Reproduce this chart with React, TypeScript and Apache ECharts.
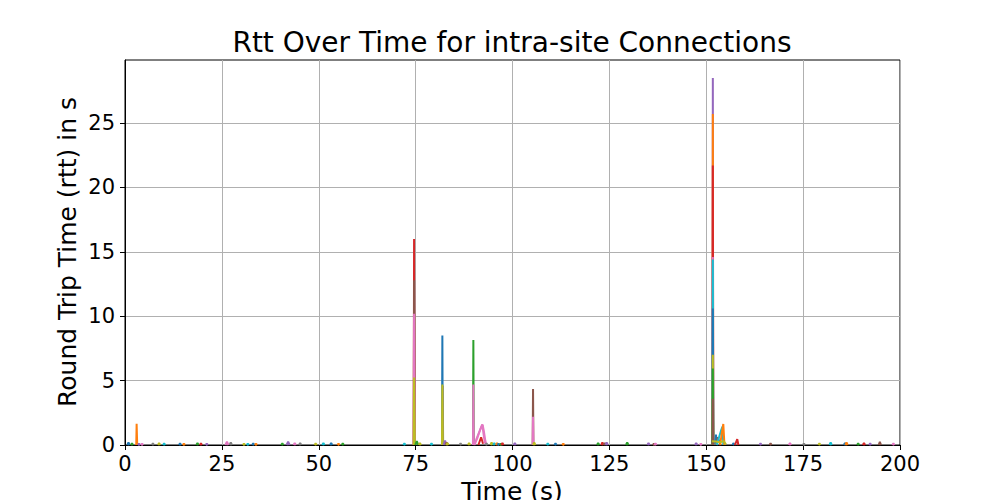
import React, { useEffect, useRef } from "react";
import * as echarts from "echarts";

type Pt = [number, number];
type Conn = [number, Pt[]]; // [connection colour index in the tab10 cycle, samples [time s, rtt s]]

const TAB10 = ["#1f77b4", "#ff7f0e", "#2ca02c", "#d62728", "#9467bd", "#8c564b", "#e377c2", "#7f7f7f", "#bcbd22", "#17becf"];

const X_TICKS = [0, 25, 50, 75, 100, 125, 150, 175, 200];
const Y_TICKS = [0, 5, 10, 15, 20, 25];

const earlyConns: Conn[] = [
  [0, [[0.6, 0], [0.9, 0.2], [1.2, 0]]],
  [2, [[1.5, 0], [1.8, 0.12], [2.1, 0]]],
  [1, [[2.9, 0], [3.0, 1.65], [3.15, 0]]],
  [4, [[3.3, 0], [3.6, 0.1], [3.9, 0]]],
  [6, [[4.1, 0], [4.4, 0.1], [4.7, 0]]],
  [7, [[6.9, 0], [7.2, 0.12], [7.5, 0]]],
  [8, [[8.5, 0], [8.8, 0.15], [9.1, 0]]],
  [9, [[9.8, 0], [10.1, 0.12], [10.4, 0]]],
  [0, [[13.9, 0], [14.2, 0.12], [14.5, 0]]],
  [1, [[14.9, 0], [15.2, 0.1], [15.5, 0]]],
  [2, [[18.4, 0], [18.7, 0.15], [19.0, 0]]],
  [3, [[19.3, 0], [19.6, 0.12], [19.9, 0]]],
  [4, [[20.8, 0], [21.1, 0.1], [21.4, 0]]],
  [6, [[25.9, 0], [26.3, 0.25], [26.7, 0]]],
  [7, [[27.0, 0], [27.3, 0.2], [27.6, 0]]],
  [8, [[30.4, 0], [30.7, 0.1], [31.0, 0]]],
  [9, [[31.4, 0], [31.7, 0.1], [32.0, 0]]],
  [0, [[32.8, 0], [33.1, 0.12], [33.4, 0]]],
  [1, [[33.5, 0], [33.8, 0.1], [34.1, 0]]],
  [2, [[40.3, 0], [40.6, 0.12], [40.9, 0]]],
  [4, [[41.7, 0], [42.1, 0.25], [42.5, 0]]],
  [6, [[43.5, 0], [43.8, 0.15], [44.1, 0]]],
  [7, [[44.9, 0], [45.2, 0.15], [45.5, 0]]],
  [8, [[48.9, 0], [49.2, 0.12], [49.5, 0]]],
  [9, [[50.9, 0], [51.2, 0.15], [51.5, 0]]],
  [0, [[52.9, 0], [53.2, 0.15], [53.5, 0]]],
  [1, [[54.8, 0], [55.1, 0.1], [55.4, 0]]],
  [2, [[55.9, 0], [56.2, 0.12], [56.5, 0]]],
];

const burst75Conns: Conn[] = [
  [9, [[71.8, 0], [72.1, 0.12], [72.4, 0]]],
  [3, [[74.5, 0], [74.6, 16.0], [74.75, 0]]],
  [5, [[74.5, 0], [74.6, 12.8], [74.75, 0]]],
  [6, [[74.5, 0], [74.6, 10.2], [74.75, 0]]],
  [8, [[74.5, 0], [74.6, 5.25], [74.8, 0]]],
  [2, [[74.9, 0], [75.3, 0.3], [75.7, 0]]],
  [8, [[75.8, 0], [76.1, 0.15], [76.4, 0]]],
  [9, [[78.8, 0], [79.1, 0.12], [79.4, 0]]],
];

const burst82Conns: Conn[] = [
  [0, [[81.8, 0], [81.9, 8.5], [82.0, 0]]],
  [7, [[81.9, 0], [82.0, 4.6], [82.1, 0]]],
  [8, [[81.8, 0], [81.9, 4.7], [82.0, 0]]],
  [4, [[82.2, 0], [82.6, 0.35], [83.0, 0]]],
  [5, [[82.7, 0], [83.0, 0.2], [83.3, 0]]],
  [8, [[82.9, 0], [83.2, 0.15], [83.5, 0]]],
  [7, [[86.3, 0], [86.6, 0.12], [86.9, 0]]],
  [8, [[88.5, 0], [88.8, 0.15], [89.1, 0]]],
];

const burst90Conns: Conn[] = [
  [2, [[89.8, 0], [89.9, 8.15], [90.0, 0]]],
  [6, [[89.8, 0], [89.9, 4.7], [90.0, 0]]],
  [3, [[91.2, 0], [91.9, 0.6], [92.4, 0.1]]],
  [6, [[89.9, 0], [90.6, 0.4], [91.4, 1.0], [92.0, 1.45], [92.3, 1.55], [92.6, 1.1], [93.0, 0.3], [93.3, 0]]],
  [6, [[90.2, 0], [91.0, 0.6], [91.8, 1.3], [92.2, 1.6], [92.5, 0.9], [92.9, 0.1]]],
  [7, [[93.0, 0], [93.3, 0.12], [93.6, 0]]],
  [8, [[94.3, 0], [94.6, 0.2], [94.9, 0]]],
  [9, [[95.0, 0], [95.3, 0.15], [95.6, 0]]],
  [1, [[95.7, 0], [96.0, 0.15], [96.3, 0]]],
  [0, [[96.1, 0], [96.4, 0.1], [96.7, 0]]],
  [2, [[96.7, 0], [97.0, 0.1], [97.3, 0]]],
  [3, [[97.1, 0], [97.4, 0.15], [97.7, 0]]],
  [4, [[100.3, 0], [100.6, 0.15], [100.9, 0]]],
];

const burst105Conns: Conn[] = [
  [5, [[105.2, 0], [105.3, 4.35], [105.4, 0]]],
  [6, [[105.2, 0], [105.3, 2.2], [105.4, 0]]],
  [8, [[105.3, 0], [105.6, 0.2], [105.9, 0]]],
  [9, [[108.8, 0], [109.1, 0.12], [109.4, 0]]],
  [0, [[110.8, 0], [111.1, 0.12], [111.4, 0]]],
  [1, [[112.8, 0], [113.1, 0.1], [113.4, 0]]],
  [2, [[121.8, 0], [122.1, 0.15], [122.4, 0]]],
  [3, [[122.9, 0], [123.2, 0.2], [123.5, 0]]],
  [5, [[123.5, 0], [123.8, 0.15], [124.1, 0]]],
  [4, [[124.0, 0], [124.3, 0.2], [124.6, 0]]],
  [2, [[129.3, 0], [129.6, 0.2], [129.9, 0]]],
  [4, [[134.8, 0], [135.1, 0.15], [135.4, 0]]],
  [5, [[136.2, 0], [136.5, 0.1], [136.8, 0]]],
  [6, [[136.6, 0], [136.9, 0.12], [137.2, 0]]],
  [4, [[147.1, 0], [147.4, 0.15], [147.7, 0]]],
  [6, [[148.3, 0], [148.6, 0.1], [148.9, 0]]],
];

const burst152Conns: Conn[] = [
  [4, [[151.6, 0], [151.7, 28.5], [151.8, 0]]],
  [1, [[151.6, 0], [151.7, 25.7], [151.8, 0]]],
  [3, [[151.6, 0], [151.7, 21.7], [151.8, 0]]],
  [6, [[151.6, 0], [151.7, 14.6], [151.8, 0]]],
  [9, [[151.6, 0], [151.7, 14.4], [151.8, 0]]],
  [0, [[151.6, 0], [151.7, 10.6], [151.8, 0]]],
  [8, [[151.6, 0], [151.7, 7.0], [151.8, 0]]],
  [2, [[151.6, 0], [151.7, 5.95], [151.8, 0]]],
  [5, [[151.6, 0], [151.7, 3.6], [151.8, 0]]],
  [0, [[152.3, 0.1], [152.5, 0.8], [152.8, 0]]],
  [5, [[152.6, 0], [153.0, 0.6], [153.4, 0.2], [153.7, 0]]],
  [9, [[152.7, 0], [153.3, 0.6], [153.9, 1.2], [154.2, 1.42], [154.4, 0]]],
  [1, [[153.6, 0], [154.0, 0.9], [154.4, 1.63], [154.7, 0]]],
  [8, [[151.5, 0.3], [152.5, 0.28], [153.5, 0.22], [154.5, 0.3], [155.1, 0.05]]],
  [0, [[156.8, 0], [157.0, 0.15], [157.3, 0]]],
  [3, [[157.4, 0], [157.8, 0.3], [158.0, 0.45], [158.3, 0]]],
];

const lateConns: Conn[] = [
  [4, [[163.7, 0], [164.0, 0.12], [164.3, 0]]],
  [5, [[166.3, 0], [166.6, 0.12], [166.9, 0]]],
  [6, [[171.3, 0], [171.6, 0.15], [171.9, 0]]],
  [7, [[174.9, 0], [175.2, 0.1], [175.5, 0]]],
  [8, [[178.9, 0], [179.2, 0.12], [179.5, 0]]],
  [9, [[181.8, 0], [182.1, 0.2], [182.4, 0]]],
  [0, [[185.5, 0], [185.8, 0.15], [186.1, 0]]],
  [1, [[185.9, 0], [186.2, 0.2], [186.5, 0]]],
  [2, [[188.9, 0], [189.2, 0.12], [189.5, 0]]],
  [3, [[190.4, 0], [190.7, 0.15], [191.0, 0]]],
  [4, [[192.0, 0], [192.3, 0.12], [192.6, 0]]],
  [5, [[194.5, 0], [194.8, 0.25], [195.1, 0]]],
  [6, [[198.0, 0], [198.3, 0.12], [198.6, 0]]],
];

const ALL_CONNS: Conn[] = [...earlyConns, ...burst75Conns, ...burst82Conns, ...burst90Conns, ...burst105Conns, ...burst152Conns, ...lateConns];

const FONT = "DejaVu Sans";

export default function App() {
  const ref = useRef<HTMLDivElement>(null);
  useEffect(() => {
    if (!ref.current) return;
    const chart = echarts.init(ref.current, undefined, { renderer: "svg" });
    const series = ALL_CONNS.map(([c, pts], i) => ({
      type: "line",
      name: "conn" + i,
      data: pts,
      showSymbol: false,
      symbol: "none",
      silent: true,
      lineStyle: { color: TAB10[c], width: 2 },
      itemStyle: { color: TAB10[c] },
    }));
    chart.setOption({
      animation: false,
      backgroundColor: "#fff",
      grid: { left: 125, right: 100, top: 60, bottom: 55, show: true, borderColor: "#000", borderWidth: 1, backgroundColor: "transparent" },
      xAxis: {
        type: "value",
        min: 0,
        max: 200,
        interval: 25,
        axisLine: { show: true, lineStyle: { color: "#000", width: 1 } },
        axisTick: { show: true, inside: false, length: 5, lineStyle: { color: "#000" }, customValues: X_TICKS },
        axisLabel: { color: "#000", fontSize: 21, fontFamily: FONT, margin: 8, showMinLabel: true, showMaxLabel: true, customValues: X_TICKS },
        splitLine: { show: true, lineStyle: { color: "#b0b0b0", width: 1 } },
      },
      yAxis: {
        type: "value",
        min: 0,
        max: 29.9,
        interval: 5,
        axisLine: { show: true, lineStyle: { color: "#000", width: 1 } },
        axisTick: { show: true, inside: false, length: 5, lineStyle: { color: "#000" }, customValues: Y_TICKS },
        axisLabel: { color: "#000", fontSize: 21, fontFamily: FONT, margin: 10, customValues: Y_TICKS },
        splitLine: { show: true, lineStyle: { color: "#b0b0b0", width: 1 } },
      },
      graphic: [
        { type: "text", x: 512, y: 42, style: { text: "Rtt Over Time for intra-site Connections", font: `28px '${FONT}'`, fill: "#000", align: "center", verticalAlign: "middle" } },
        { type: "text", x: 512, y: 491, style: { text: "Time (s)", font: `25px '${FONT}'`, fill: "#000", align: "center", verticalAlign: "middle" } },
        { type: "text", x: 67, y: 252, rotation: Math.PI / 2, style: { text: "Round Trip Time (rtt) in s", font: `25px '${FONT}'`, fill: "#000", align: "center", verticalAlign: "middle" } },
      ],
      series,
    });
    return () => chart.dispose();
  }, []);
  return <div ref={ref} style={{ width: 1000, height: 500, position: "absolute", left: 0, top: 0 }} />;
}
